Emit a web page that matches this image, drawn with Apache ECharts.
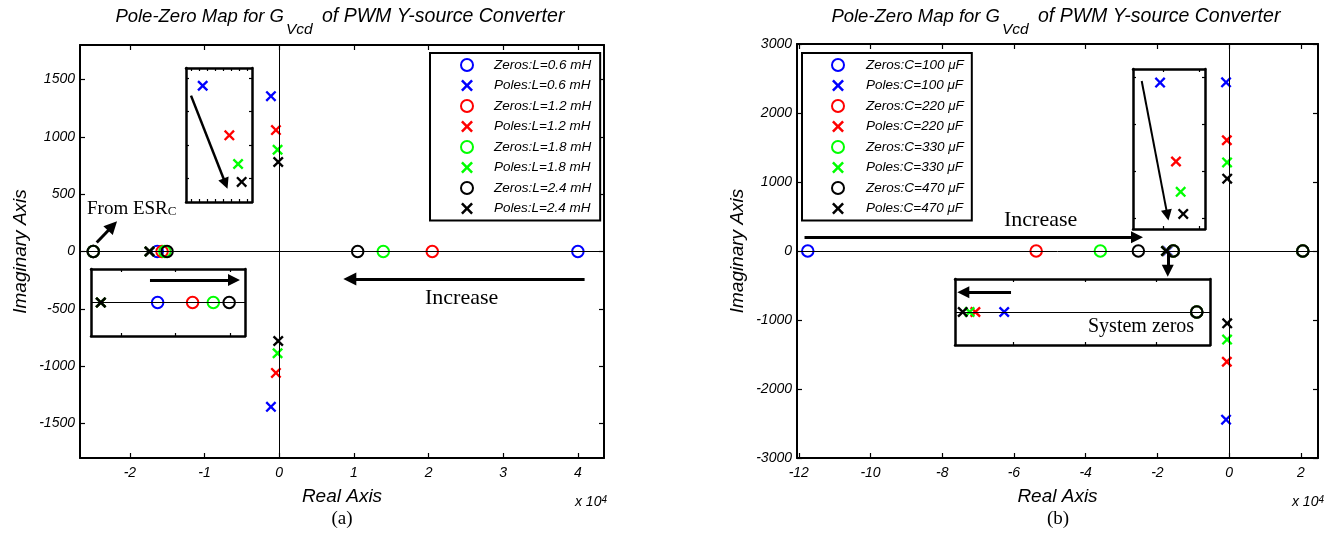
<!DOCTYPE html>
<html><head><meta charset="utf-8">
<script src="https://cdn.jsdelivr.net/npm/echarts@6/dist/echarts.min.js"></script>
<style>html,body{margin:0;padding:0;background:#fff}#c{width:1331px;height:536px}</style>
</head><body><div id="c"></div>
<script>
// ---------- data: real parts in units of 1e4 (1/s), imaginary parts in 1/s ----------
const seriesColors = ['#0000ff', '#ff0000', '#00ff00', '#000000'];
// (a) sweep of inductance L
const aLabels = ['0.6 mH', '1.2 mH', '1.8 mH', '2.4 mH'];
const aZeroEsr = [-2.49, -2.49, -2.49, -2.49];
const aZeroLhp = [-1.633, -1.569, -1.531, -1.502];
const aZeroRhp = [4.0, 2.05, 1.394, 1.051];
const aPoleReal = [-1.737, -1.737, -1.737, -1.737];
const aPoleRe = [-0.111, -0.044, -0.022, -0.013];
const aPoleIm = [1354, 1058, 887, 780];
// (b) sweep of capacitance C
const bLabels = ['100 μF', '220 μF', '330 μF', '470 μF'];
const bZeroEsr = [-11.75, -5.38, -3.59, -2.53];
const bZeroSys = [-1.557, -1.557, -1.557, -1.557];
const bZeroRhp = [2.056, 2.056, 2.056, 2.056];
const bPoleReal = [-1.724, -1.749, -1.754, -1.760];
const bPoleRe = [-0.0844, -0.0623, -0.0558, -0.0522];
const bPoleIm = [2444, 1605, 1283, 1048];
// tick values (main axes)
const aXTicks = [-2, -1, 0, 1, 2, 3, 4];
const aYTicks = [-1500, -1000, -500, 0, 500, 1000, 1500];
const bXTicks = [-12, -10, -8, -6, -4, -2, 0, 2];
const bYTicks = [-3000, -2000, -1000, 0, 1000, 2000, 3000];
// tick values (insets)
const aInsPoleXTicks = [-0.14, -0.12, -0.10, -0.08, -0.06, -0.04, -0.02, 0];
const aInsPoleYTicks = [800, 1000, 1200, 1400];
const aInsRealXTicks = [-1.7, -1.6, -1.5];
const bInsPoleXTicks = [-0.08, -0.03];
const bInsPoleYTicks = [1000, 1500, 2000, 2500];
const bInsRealXTicks = [-1.716, -1.654, -1.592];
// annotation arrows [x1, y1, x2, y2] in data coordinates
const aArrowEsr = [-2.444, 78, -2.232, 223];
const aArrowInc = [4.09, -240, 0.946, -240];
const aArrowInsPole = [-0.1404, 1295, -0.0537, 770];
const aArrowInsReal = [-1.647, 67, -1.4932, 67];
const bArrowInc = [-11.84, 201, -2.568, 201];
const bArrowDown = [-1.71, -20, -1.71, -288];
const bArrowInsPole = [-0.1099, 2460, -0.0742, 1036];
const bArrowInsReal = [-1.7181, 60, -1.7595, 60];

// ---------- chart construction ----------
const FONT = "'Liberation Sans', Arial, sans-serif";
const SERIF = "'Liberation Serif', 'Times New Roman', serif";
const XPATH = 'path://M1.5,0L5,3.5L8.5,0L10,1.5L6.5,5L10,8.5L8.5,10L5,6.5L1.5,10L0,8.5L3.5,5L0,1.5Z';
const grids = [], xAxes = [], yAxes = [], series = [];

function addPanel(rect, xr, yr, xt, yt, main) {
  const gi = grids.length;
  grids.push(Object.assign({show: !main, backgroundColor: '#fff', borderWidth: 0,
    containLabel: false, outerBoundsMode: 'none'}, rect));
  const lw = main ? 2 : 2.5, tl = main ? 5 : 3;
  const mk = (pos, range, ticks, withLabels, isX) => {
    const ax = {
      type: 'value', gridIndex: gi, position: pos, min: range[0], max: range[1],
      axisLine: {show: true, onZero: false, lineStyle: {color: '#000', width: lw}},
      axisTick: {show: ticks.length > 0, inside: true, length: tl, customValues: ticks,
        lineStyle: {color: '#000', width: 1.2}},
      axisLabel: {show: false},
      splitLine: {show: false}, splitArea: {show: false}
    };
    if (withLabels) {
      ax.axisLabel = {show: true, customValues: ticks, fontStyle: 'italic', fontFamily: FONT,
        fontSize: 14, color: '#000', margin: isX ? 8 : 5, formatter: v => String(v)};
      ax.name = isX ? 'Real Axis' : 'Imaginary Axis';
      ax.nameLocation = 'middle';
      ax.nameGap = isX ? 29 : 50;
      ax.nameTextStyle = {fontStyle: 'italic', fontFamily: FONT, fontSize: 19, color: '#000'};
    }
    return ax;
  };
  const xi = xAxes.length, yi = yAxes.length;
  xAxes.push(mk('bottom', xr, xt, main, true));
  xAxes.push(mk('top', xr, xt, false, true));
  yAxes.push(mk('left', yr, yt, main, false));
  yAxes.push(mk('right', yr, yt, false, false));
  return {xi, yi, xr, yr};
}

function zeroLines(p, withX) {
  const d = [{yAxis: 0}];
  if (withX) d.push({xAxis: 0});
  series.push({type: 'scatter', xAxisIndex: p.xi, yAxisIndex: p.yi, data: [], z: 1, silent: true,
    markLine: {silent: true, symbol: ['none', 'none'], label: {show: false},
      lineStyle: {color: '#000', width: 1, type: 'solid'}, emphasis: {disabled: true}, data: d}});
}
function arrows(p, list, width, size) {
  series.push({type: 'scatter', xAxisIndex: p.xi, yAxisIndex: p.yi, data: [], z: 5, silent: true,
    markLine: {silent: true, symbol: ['none', 'triangle'], symbolSize: size, label: {show: false},
      lineStyle: {color: '#000', width: width, type: 'solid'}, itemStyle: {color: '#000'},
      emphasis: {disabled: true},
      data: list.map(a => [{coord: [a[0], a[1]]}, {coord: [a[2], a[3]]}])}});
}
function markers(p, prefix, labels, zeroLists, poleFn, inset) {
  const inR = pt => !inset || (pt[0] >= p.xr[0] && pt[0] <= p.xr[1] && pt[1] >= p.yr[0] && pt[1] <= p.yr[1]);
  labels.forEach((lab, i) => {
    const c = seriesColors[i];
    series.push({type: 'scatter', name: 'Zeros:' + prefix + '=' + lab, xAxisIndex: p.xi, yAxisIndex: p.yi,
      symbol: 'circle', symbolSize: 11.5, z: 3, emphasis: {disabled: true},
      itemStyle: {color: 'rgba(0,0,0,0)', borderColor: c, borderWidth: 2, opacity: 1},
      data: zeroLists.map(l => [l[i], 0]).filter(inR)});
    series.push({type: 'scatter', name: 'Poles:' + prefix + '=' + lab, xAxisIndex: p.xi, yAxisIndex: p.yi,
      symbol: XPATH, symbolSize: 11, z: 3, emphasis: {disabled: true},
      itemStyle: {color: c, borderWidth: 0, opacity: 1},
      data: poleFn(i).filter(inR)});
  });
}

const aPoles = i => [[aPoleReal[i], 0], [aPoleRe[i], aPoleIm[i]], [aPoleRe[i], -aPoleIm[i]]];
const bPoles = i => [[bPoleReal[i], 0], [bPoleRe[i], bPoleIm[i]], [bPoleRe[i], -bPoleIm[i]]];
const aZeroLists = [aZeroEsr, aZeroLhp, aZeroRhp];
const bZeroLists = [bZeroEsr, bZeroSys, bZeroRhp];

// panel (a)
const pa = addPanel({left: 80, top: 45, width: 524, height: 413}, [-2.668, 4.35], [-1800, 1800], aXTicks, aYTicks, true);
zeroLines(pa, true);
arrows(pa, [aArrowEsr, aArrowInc], 3, 13);
markers(pa, 'L', aLabels, aZeroLists, aPoles, false);
const pa1 = addPanel({left: 186, top: 68, width: 66, height: 134}, [-0.153, 0.013], [660, 1460], aInsPoleXTicks, aInsPoleYTicks, false);
arrows(pa1, [aArrowInsPole], 2.5, 11);
markers(pa1, 'L', aLabels, aZeroLists, aPoles, true);
const pa2 = addPanel({left: 91, top: 269, width: 154, height: 67}, [-1.755, -1.473], [-100, 100], aInsRealXTicks, [], false);
zeroLines(pa2, false);
arrows(pa2, [aArrowInsReal], 3, 12);
markers(pa2, 'L', aLabels, aZeroLists, aPoles, true);

// panel (b)
const pb = addPanel({left: 797, top: 44, width: 521, height: 414}, [-12.05, 2.48], [-3000, 3000], bXTicks, bYTicks, true);
zeroLines(pb, true);
arrows(pb, [bArrowInc, bArrowDown], 3, 12);
markers(pb, 'C', bLabels, bZeroLists, bPoles, false);
const pb1 = addPanel({left: 1133, top: 69, width: 72, height: 160}, [-0.122, -0.022], [888, 2588], bInsPoleXTicks, bInsPoleYTicks, false);
arrows(pb1, [bArrowInsPole], 2, 11);
markers(pb1, 'C', bLabels, bZeroLists, bPoles, true);
const pb2 = addPanel({left: 955, top: 279, width: 255, height: 66}, [-1.7667, -1.5455], [-100, 100], bInsRealXTicks, [], false);
zeroLines(pb2, false);
arrows(pb2, [bArrowInsReal], 3, 12);
markers(pb2, 'C', bLabels, bZeroLists, bPoles, true);

function legendData(prefix, labels) {
  const out = [];
  labels.forEach((lab, i) => {
    const c = seriesColors[i];
    out.push({name: 'Zeros:' + prefix + '=' + lab, icon: 'circle',
      itemStyle: {color: '#fff', borderColor: c, borderWidth: 2}});
    out.push({name: 'Poles:' + prefix + '=' + lab, icon: XPATH,
      itemStyle: {color: c, borderWidth: 0}});
  });
  return out;
}
const legendBase = {orient: 'vertical', top: 53, selectedMode: false, backgroundColor: '#fff',
  borderColor: '#000', borderWidth: 2, itemWidth: 12, itemHeight: 12, itemGap: 6.5,
  symbolKeepAspect: true};
const legendText = (pl) => ({fontStyle: 'italic', fontFamily: FONT, fontSize: 13.5, color: '#000', padding: [0, 0, 0, pl]});

const tA = {fontSize: 18.5, fontStyle: 'italic', fontFamily: FONT, fill: '#000'};
const tB = {fontSize: 19.5, fontStyle: 'italic', fontFamily: FONT, fill: '#000'};
const tS = {fontSize: 15.5, fontStyle: 'italic', fontFamily: FONT, fill: '#000'};
function titleParts(dx) {
  return [
    {type: 'text', x: 284 + dx, y: 16.5, z: 10, style: Object.assign({text: 'Pole-Zero Map for G', align: 'right', verticalAlign: 'middle'}, tA)},
    {type: 'text', x: 286 + dx, y: 29.5, z: 10, style: Object.assign({text: 'Vcd', align: 'left', verticalAlign: 'middle'}, tS)},
    {type: 'text', x: 322 + dx, y: 16.5, z: 10, style: Object.assign({text: 'of PWM Y-source Converter', align: 'left', verticalAlign: 'middle'}, tB)}
  ];
}
const expRich = {
  a: {fontSize: 14, fontStyle: 'italic', fontFamily: FONT, fill: '#000', lineHeight: 14, verticalAlign: 'bottom'},
  s: {fontSize: 10, fontStyle: 'italic', fontFamily: FONT, fill: '#000', lineHeight: 10, padding: [0, 0, 8, 0], verticalAlign: 'top'}
};
const serif = (size) => ({fontSize: size, fontFamily: SERIF, fill: '#000'});

const option = {
  animation: false,
  backgroundColor: '#fff',
  grid: grids, xAxis: xAxes, yAxis: yAxes, series: series,
  legend: [
    Object.assign({}, legendBase, {left: 430, padding: [5, 9, 5, 30], textStyle: legendText(16), data: legendData('L', aLabels)}),
    Object.assign({}, legendBase, {left: 802, padding: [5, 8, 5, 29], textStyle: legendText(17), data: legendData('C', bLabels)})
  ],
  graphic: titleParts(0).concat(titleParts(716)).concat([
    {type: 'text', x: 87, y: 209, z: 10, style: {text: '{a|From ESR}{c|C}', align: 'left', verticalAlign: 'middle',
      rich: {a: Object.assign(serif(19), {lineHeight: 19, verticalAlign: 'bottom'}), c: Object.assign(serif(13), {lineHeight: 13, verticalAlign: 'bottom'})}}},
    {type: 'text', x: 425, y: 298, z: 10, style: Object.assign(serif(22), {text: 'Increase', align: 'left', verticalAlign: 'middle'})},
    {type: 'text', x: 1004, y: 220, z: 10, style: Object.assign(serif(22), {text: 'Increase', align: 'left', verticalAlign: 'middle'})},
    {type: 'text', x: 1088, y: 327, z: 10, style: Object.assign(serif(20), {text: 'System zeros', align: 'left', verticalAlign: 'middle'})},
    {type: 'text', x: 342, y: 519, z: 10, style: Object.assign(serif(19), {text: '(a)', align: 'center', verticalAlign: 'middle'})},
    {type: 'text', x: 1058, y: 519, z: 10, style: Object.assign(serif(19), {text: '(b)', align: 'center', verticalAlign: 'middle'})},
    {type: 'text', x: 607, y: 502, z: 10, style: {text: '{a|x 10}{s|4}', rich: expRich, align: 'right', verticalAlign: 'middle'}},
    {type: 'text', x: 1324, y: 502, z: 10, style: {text: '{a|x 10}{s|4}', rich: expRich, align: 'right', verticalAlign: 'middle'}}
  ])
};
const chart = echarts.init(document.getElementById('c'), null, {renderer: 'canvas'});
chart.setOption(option);
</script></body></html>
